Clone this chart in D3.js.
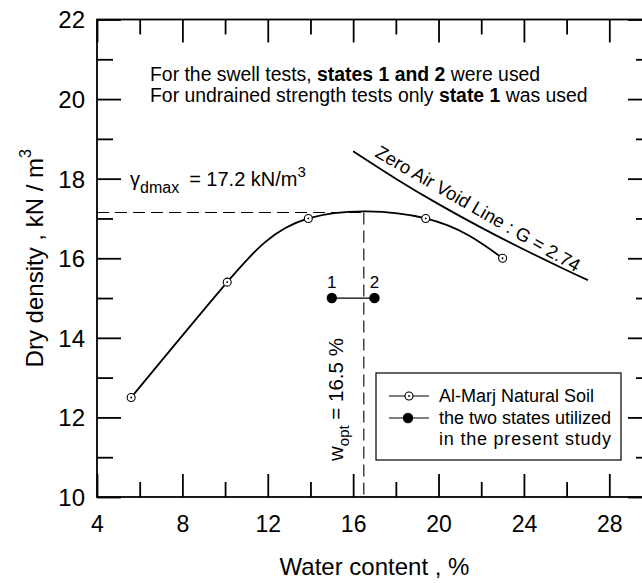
<!DOCTYPE html>
<html>
<head>
<meta charset="utf-8">
<script src="https://cdn.jsdelivr.net/npm/d3@7"></script>
<style>
  html, body { margin: 0; padding: 0; background: #fff; }
  svg { display: block; font-family: "Liberation Sans", Arial, sans-serif; }
</style>
</head>
<body>
<svg id="chart" width="642" height="583"></svg>
<script>
// Compaction test: water content (%) vs dry density (kN/m3)
const soilWater   = [5.6, 10.1, 13.9, 19.4, 23.0];
const soilDensity = [12.5, 15.4, 17.0, 17.0, 16.0];

// The two compaction states used in the study
const stateLabels  = ["1", "2"];
const stateWater   = [15.0, 17.0];
const stateDensity = [15.0, 15.0];

// Zero air void line (G = 2.74)
const zavWater   = [16, 18, 20, 22, 24, 26, 27];
const zavDensity = [18.69, 18.0, 17.36, 16.77, 16.22, 15.7, 15.45];

// Optimum values
const optWater = 16.5;
const maxDensityLine = 17.15;

const xMajorTicks = [4, 8, 12, 16, 20, 24, 28];
const xMinorTicks = [6, 10, 14, 18, 22, 26];
const yMajorTicks = [10, 12, 14, 16, 18, 20, 22];
const yMinorTicks = [11, 13, 15, 17, 19, 21];

const svg = d3.select("#chart");
const plotL = 97, plotR = 652, plotT = 19.5, plotB = 497;

const x = d3.scaleLinear().domain([4, 30]).range([plotL, plotR]);
const y = d3.scaleLinear().domain([10, 22]).range([plotB, plotT]);

const axisWidth = 1.8;

function styleAxis(g) {
  g.select(".domain").remove();
  g.selectAll(".tick line").attr("stroke", "#000").attr("stroke-width", axisWidth);
  g.selectAll(".tick text").attr("fill", "#000")
    .style("font-family", "'Liberation Sans', Arial, sans-serif");
}

// bottom axis
svg.append("g").attr("transform", `translate(0,${plotB})`)
  .call(d3.axisBottom(x).tickValues(xMajorTicks).tickSize(-23).tickFormat(d3.format("d")))
  .call(styleAxis)
  .call(g => g.selectAll(".tick text").attr("font-size", 23).attr("dy", "0").attr("y", 35));
svg.append("g").attr("transform", `translate(0,${plotB})`)
  .call(d3.axisBottom(x).tickValues(xMinorTicks).tickSize(-15).tickFormat(""))
  .call(styleAxis);

// top axis
svg.append("g").attr("transform", `translate(0,${plotT})`)
  .call(d3.axisTop(x).tickValues(xMajorTicks).tickSize(-23).tickFormat(""))
  .call(styleAxis);
svg.append("g").attr("transform", `translate(0,${plotT})`)
  .call(d3.axisTop(x).tickValues(xMinorTicks).tickSize(-15).tickFormat(""))
  .call(styleAxis);

// left axis
svg.append("g").attr("transform", `translate(${plotL},0)`)
  .call(d3.axisLeft(y).tickValues(yMajorTicks).tickSize(-24).tickFormat(d3.format("d")))
  .call(styleAxis)
  .call(g => g.selectAll(".tick text").attr("font-size", 24).attr("x", -12).attr("dy", "0.35em"));
svg.append("g").attr("transform", `translate(${plotL},0)`)
  .call(d3.axisLeft(y).tickValues(yMinorTicks).tickSize(-16).tickFormat(""))
  .call(styleAxis);

// right axis
svg.append("g").attr("transform", `translate(${plotR},0)`)
  .call(d3.axisRight(y).tickValues(yMajorTicks).tickSize(-24).tickFormat(""))
  .call(styleAxis);
svg.append("g").attr("transform", `translate(${plotR},0)`)
  .call(d3.axisRight(y).tickValues(yMinorTicks).tickSize(-16).tickFormat(""))
  .call(styleAxis);

// frame
svg.append("rect")
  .attr("x", plotL).attr("y", plotT)
  .attr("width", plotR - plotL).attr("height", plotB - plotT)
  .attr("fill", "none").attr("stroke", "#000").attr("stroke-width", axisWidth);

// axis titles
svg.append("text")
  .attr("x", (plotL + plotR) / 2).attr("y", 575)
  .attr("text-anchor", "middle").attr("font-size", 24)
  .text("Water content , %");

const yTitle = svg.append("text")
  .attr("transform", `translate(43,${(plotT + plotB) / 2}) rotate(-90)`)
  .attr("text-anchor", "middle").attr("font-size", 24);
yTitle.append("tspan").text("Dry density , kN / m");
yTitle.append("tspan").attr("font-size", 16).attr("dy", "-0.75em").text("3");

// dashed optimum guides
svg.append("path")
  .attr("d", d3.line()([[x(4), y(maxDensityLine)], [x(optWater), y(maxDensityLine)]]))
  .attr("fill", "none").attr("stroke", "#000").attr("stroke-width", 1.1)
  .attr("stroke-dasharray", "12,6");
svg.append("path")
  .attr("d", d3.line()([[x(optWater), y(maxDensityLine)], [x(optWater), y(10)]]))
  .attr("fill", "none").attr("stroke", "#000").attr("stroke-width", 1.1)
  .attr("stroke-dasharray", "12,6");

// zero air void line
const zavData = zavWater.map((w, i) => [w, zavDensity[i]]);
svg.append("path")
  .attr("d", d3.line().x(d => x(d[0])).y(d => y(d[1])).curve(d3.curveNatural)(zavData))
  .attr("fill", "none").attr("stroke", "#000").attr("stroke-width", 1.8);

svg.append("text")
  .attr("transform", `translate(374,156) rotate(30)`)
  .attr("font-size", 18.5)
  .text("Zero Air Void Line : G = 2.74");

// compaction curve
const soilData = soilWater.map((w, i) => [w, soilDensity[i]]);
svg.append("path")
  .attr("d", d3.line().x(d => x(d[0])).y(d => y(d[1])).curve(d3.curveNatural)(soilData))
  .attr("fill", "none").attr("stroke", "#000").attr("stroke-width", 1.8);

function openMarker(g, cx, cy) {
  g.append("circle").attr("cx", cx).attr("cy", cy).attr("r", 4)
    .attr("fill", "#fff").attr("stroke", "#000").attr("stroke-width", 1.1);
  g.append("circle").attr("cx", cx).attr("cy", cy).attr("r", 0.9).attr("fill", "#000");
}
const soilG = svg.append("g");
soilData.forEach(d => openMarker(soilG, x(d[0]), y(d[1])));

// states 1 and 2
const stateData = stateWater.map((w, i) => [w, stateDensity[i], stateLabels[i]]);
svg.append("path")
  .attr("d", d3.line().x(d => x(d[0])).y(d => y(d[1]))(stateData))
  .attr("fill", "none").attr("stroke", "#000").attr("stroke-width", 1.2);
svg.append("g").selectAll("circle").data(stateData).join("circle")
  .attr("cx", d => x(d[0])).attr("cy", d => y(d[1])).attr("r", 5.2).attr("fill", "#000");
svg.append("g").selectAll("text").data(stateData).join("text")
  .attr("x", d => x(d[0])).attr("y", d => y(d[1]) - 10)
  .attr("text-anchor", "middle").attr("font-size", 17)
  .text(d => d[2]);

// annotations
const note1 = svg.append("text").attr("x", 150).attr("y", 81).attr("font-size", 19.4);
note1.append("tspan").text("For the swell tests, ");
note1.append("tspan").attr("font-weight", "bold").text("states 1 and 2");
note1.append("tspan").text(" were used");
const note2 = svg.append("text").attr("x", 150).attr("y", 102).attr("font-size", 19.4);
note2.append("tspan").text("For undrained strength tests only ");
note2.append("tspan").attr("font-weight", "bold").text("state 1");
note2.append("tspan").text(" was used");

const gam = svg.append("text").attr("x", 130).attr("y", 186).attr("font-size", 20);
gam.append("tspan").text("\u03B3");
gam.append("tspan").attr("font-size", 16).attr("dy", 7).text("dmax");
gam.append("tspan").attr("dy", -7).attr("dx", 10).text("= 17.2 kN/m");
gam.append("tspan").attr("font-size", 15).attr("dy", -9).text("3");

const wopt = svg.append("text")
  .attr("transform", `translate(343,461) rotate(-90)`)
  .attr("font-size", 20.5);
wopt.append("tspan").text("w");
wopt.append("tspan").attr("font-size", 15).attr("dy", 6).text("opt");
wopt.append("tspan").attr("dy", -6).text(" = 16.5 %");

// legend
const lg = svg.append("g");
lg.append("rect").attr("x", 376).attr("y", 373).attr("width", 245).attr("height", 87)
  .attr("fill", "#fff").attr("stroke", "#000").attr("stroke-width", 1.2);
lg.append("line").attr("x1", 389).attr("x2", 429).attr("y1", 396).attr("y2", 396)
  .attr("stroke", "#000").attr("stroke-width", 1.2);
openMarker(lg, 409, 396);
lg.append("line").attr("x1", 389).attr("x2", 429).attr("y1", 418).attr("y2", 418)
  .attr("stroke", "#000").attr("stroke-width", 1.2);
lg.append("circle").attr("cx", 408).attr("cy", 418).attr("r", 5.2).attr("fill", "#000");
lg.append("text").attr("x", 439).attr("y", 402).attr("font-size", 18).text("Al-Marj Natural Soil");
const lt2 = lg.append("text").attr("x", 439).attr("y", 424).attr("font-size", 18).text("the two states utilized");
const w2 = lt2.node().getComputedTextLength();
lg.append("text").attr("x", 439).attr("y", 445).attr("font-size", 18)
  .attr("textLength", w2).attr("lengthAdjust", "spacing")
  .text("in the present study");
</script>
</body>
</html>
